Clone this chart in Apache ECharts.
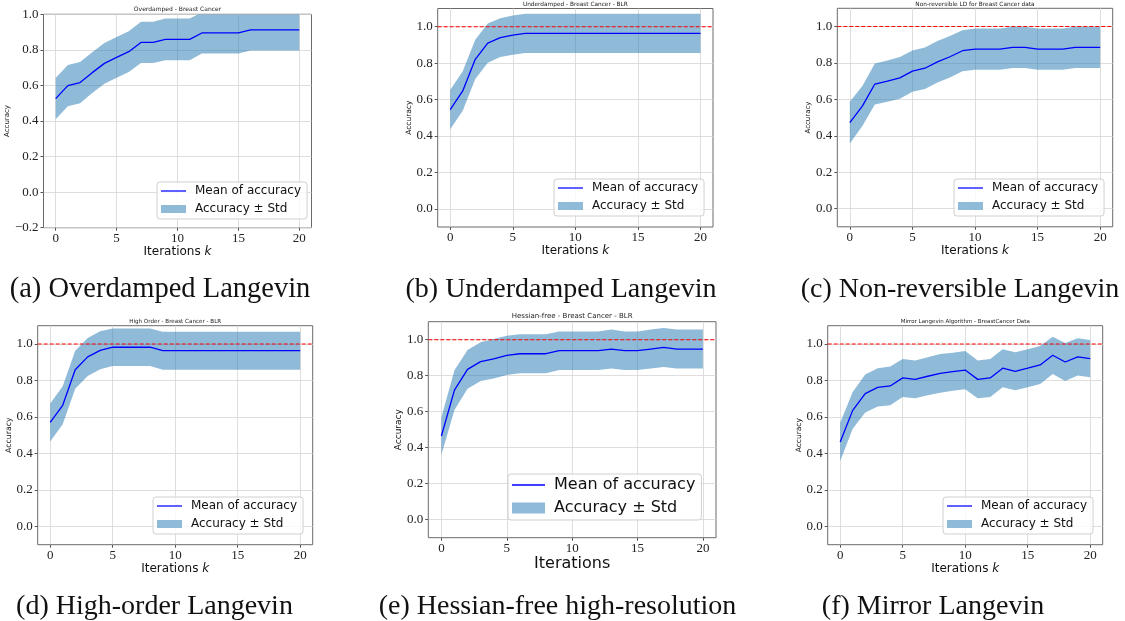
<!DOCTYPE html>
<html><head><meta charset="utf-8">
<script src="https://cdn.jsdelivr.net/npm/echarts@6/dist/echarts.min.js"></script>
<style>html,body{margin:0;padding:0;background:#fff}#c{width:1125px;height:621px}</style>
</head><body><div id="c"></div>
<script>
// ---------- data ----------
const ITER = [0,1,2,3,4,5,6,7,8,9,10,11,12,13,14,15,16,17,18,19,20];
const X_TICKS = [0,5,10,15,20];
const X_LIMITS = [-1, 21];
const Y_TICKS_A = [-0.2,0.0,0.2,0.4,0.6,0.8,1.0];
const Y_TICKS = [0.0,0.2,0.4,0.6,0.8,1.0];
const REF_LEVEL = 1.0;

const A_MEAN = [0.526,0.599,0.616,0.672,0.724,0.758,0.790,0.842,0.842,0.859,0.859,0.859,0.895,0.895,0.895,0.895,0.912,0.912,0.912,0.912,0.912];
const A_STD  = [0.116,0.116,0.116,0.114,0.114,0.115,0.115,0.116,0.116,0.117,0.117,0.117,0.116,0.116,0.116,0.116,0.116,0.116,0.116,0.116,0.116];

const B_MEAN = [0.545,0.647,0.821,0.910,0.940,0.954,0.963,0.963,0.963,0.963,0.963,0.963,0.963,0.963,0.963,0.963,0.963,0.963,0.963,0.963,0.963];
const B_STD  = [0.108,0.108,0.108,0.108,0.107,0.108,0.108,0.108,0.108,0.108,0.108,0.108,0.108,0.108,0.108,0.108,0.108,0.108,0.108,0.108,0.108];

const C_MEAN = [0.472,0.563,0.684,0.700,0.718,0.755,0.771,0.806,0.834,0.867,0.876,0.876,0.876,0.885,0.885,0.876,0.876,0.876,0.885,0.885,0.885];
const C_STD  = [0.115,0.110,0.113,0.113,0.115,0.113,0.114,0.114,0.114,0.113,0.113,0.113,0.113,0.113,0.113,0.113,0.113,0.113,0.113,0.113,0.113];

const D_MEAN = [0.570,0.664,0.859,0.929,0.965,0.982,0.982,0.982,0.982,0.963,0.963,0.963,0.963,0.963,0.963,0.963,0.963,0.963,0.963,0.963,0.963];
const D_STD  = [0.104,0.104,0.104,0.104,0.104,0.103,0.103,0.103,0.103,0.104,0.104,0.104,0.104,0.104,0.104,0.104,0.104,0.104,0.104,0.104,0.104];

const E_MEAN = [0.465,0.720,0.835,0.878,0.894,0.913,0.922,0.922,0.922,0.939,0.939,0.939,0.939,0.948,0.939,0.939,0.948,0.957,0.948,0.948,0.948];
const E_STD  = [0.104,0.110,0.108,0.108,0.110,0.109,0.108,0.108,0.108,0.107,0.107,0.107,0.107,0.108,0.107,0.107,0.108,0.108,0.108,0.108,0.108];

const F_MEAN = [0.463,0.636,0.728,0.762,0.770,0.814,0.806,0.823,0.839,0.848,0.857,0.806,0.814,0.867,0.850,0.867,0.885,0.938,0.901,0.929,0.920];
const F_STD  = [0.105,0.101,0.104,0.105,0.106,0.104,0.103,0.104,0.106,0.104,0.105,0.103,0.104,0.104,0.104,0.104,0.104,0.102,0.104,0.102,0.102];

const TITLES = ['Overdamped - Breast Cancer','Underdamped - Breast Cancer - BLR','Non-reversible LD for Breast Cancer data',
                'High Order - Breast Cancer - BLR','Hessian-free - Breast Cancer - BLR','Mirror Langevin Algorithm - BreastCancer Data'];
const CAPTIONS = ['(a) Overdamped Langevin','(b) Underdamped Langevin','(c) Non-reversible Langevin',
                  '(d) High-order Langevin','(e) Hessian-free high-resolution','(f) Mirror Langevin'];
const LEG_MEAN = 'Mean of accuracy';
const LEG_BAND = 'Accuracy \u00b1 Std';
const Y_NAME = 'Accuracy';

// ---------- layout ----------
const PANELS = [
 {mean:A_MEAN, std:A_STD, ymin:-0.2, ymax:1.0, yticks:Y_TICKS_A, ref:false,
  grid:{left:43.5, top:14.3, width:268, height:213.4}, tY:9.7, tS:6,
  yn:{size:7, gap:22}, xn:{k:true, size:12, gap:13}, lg:{left:157, top:182, fs:12, iw:25, ih:8, gap:6}, cap:{x:160, y:290, fs:28.5}},
 {mean:B_MEAN, std:B_STD, ymin:-0.1, ymax:1.1, yticks:Y_TICKS, ref:true,
  grid:{left:437.7, top:8.5, width:275.3, height:218.5}, tY:4.5, tS:5.8,
  yn:{size:7.5, gap:17}, xn:{k:true, size:12, gap:14}, lg:{left:554, top:179, fs:12, iw:25, ih:8, gap:6}, cap:{x:561, y:290, fs:28}},
 {mean:C_MEAN, std:C_STD, ymin:-0.1, ymax:1.1, yticks:Y_TICKS, ref:true,
  grid:{left:837.3, top:8.3, width:275.4, height:218.5}, tY:4.5, tS:5.8,
  yn:{size:7, gap:18}, xn:{k:true, size:12, gap:14}, lg:{left:954, top:179, fs:12, iw:25, ih:8, gap:6}, cap:{x:960, y:290, fs:28}},
 {mean:D_MEAN, std:D_STD, ymin:-0.1, ymax:1.1, yticks:Y_TICKS, ref:true,
  grid:{left:37.7, top:325.7, width:275, height:219}, tY:322, tS:5.6,
  yn:{size:7.8, gap:18}, xn:{k:true, size:12, gap:14}, lg:{left:153, top:497, fs:12, iw:25, ih:8, gap:6}, cap:{x:154.5, y:607, fs:28}},
 {mean:E_MEAN, std:E_STD, ymin:-0.1, ymax:1.1, yticks:Y_TICKS, ref:true,
  grid:{left:428.3, top:321.7, width:287.7, height:216}, tY:315.8, tS:7,
  yn:{size:9, gap:23}, xn:{k:false, size:16, gap:16}, lg:{left:508, top:474, fs:16, iw:33, ih:11, gap:7}, cap:{x:557.5, y:607, fs:28}},
 {mean:F_MEAN, std:F_STD, ymin:-0.1, ymax:1.1, yticks:Y_TICKS, ref:true,
  grid:{left:827.7, top:325.7, width:275, height:219}, tY:322, tS:5.5,
  yn:{size:7.5, gap:17}, xn:{k:true, size:12, gap:14}, lg:{left:943, top:497, fs:12, iw:25, ih:8, gap:6}, cap:{x:933, y:607, fs:28}}
];

const BAND = 'rgba(31,119,180,0.5)';
const BAND_SOLID = '#8fbbd9';
const fmtY = v => (Math.abs(v) < 1e-9 ? 0 : v).toFixed(1).replace('-', '\u2212');

const grids = [], xAxes = [], yAxes = [], series = [], legends = [], graphics = [];
PANELS.forEach((p, i) => {
  grids.push(Object.assign({show:true, borderColor:'#6a6a6a', borderWidth:1, containLabel:false}, p.grid));
  xAxes.push({
    type:'value', gridIndex:i, min:X_LIMITS[0], max:X_LIMITS[1],
    axisLine:{show:false, onZero:false},
    axisTick:{show:true, customValues:X_TICKS, length:3, lineStyle:{color:'#555'}},
    axisLabel:{customValues:X_TICKS, fontFamily:'Liberation Serif', fontSize:13, color:'#222', margin:4},
    splitLine:{show:true, lineStyle:{color:'#d6d6d6', width:0.8}},
    name: p.xn.k ? '{n|Iterations }{k|k}' : '{n|Iterations}',
    nameLocation:'middle', nameGap:p.xn.gap,
    nameTextStyle:{rich:{
      n:{fontFamily:'DejaVu Sans', fontSize:p.xn.size, color:'#111'},
      k:{fontFamily:'DejaVu Sans', fontStyle:'italic', fontSize:p.xn.size, color:'#111'}}}
  });
  yAxes.push({
    type:'value', gridIndex:i, min:p.ymin, max:p.ymax,
    axisLine:{show:false, onZero:false},
    axisTick:{show:true, customValues:p.yticks, length:3, lineStyle:{color:'#555'}},
    axisLabel:{customValues:p.yticks, formatter:fmtY, fontFamily:'Liberation Serif', fontSize:13, color:'#222', margin:5},
    splitLine:{show:true, lineStyle:{color:'#d6d6d6', width:0.8}},
    name:Y_NAME, nameLocation:'middle', nameGap:p.yn.gap,
    nameTextStyle:{fontFamily:'DejaVu Sans', fontSize:p.yn.size, color:'#111'}
  });
  const lo = ITER.map((x, j) => p.mean[j] - p.std[j]);
  const hi = ITER.map((x, j) => p.mean[j] + p.std[j]);
  series.push({
    type:'custom', name:LEG_BAND, xAxisIndex:i, yAxisIndex:i, silent:true, clip:true, z:2,
    itemStyle:{color:BAND_SOLID},
    data: ITER.map((x, j) => [x, lo[j], hi[j]]),
    encode:{x:0, y:[1,2]},
    renderItem: (params, api) => {
      if (params.dataIndex !== 0) return null;
      const pts = [];
      ITER.forEach((x, j) => pts.push(api.coord([x, hi[j]])));
      for (let j = ITER.length - 1; j >= 0; j--) pts.push(api.coord([ITER[j], lo[j]]));
      const cs = params.coordSys;
      return {type:'polygon', shape:{points:pts}, style:{fill:BAND, stroke:null},
        clipPath:{type:'rect', shape:{x:cs.x, y:cs.y, width:cs.width, height:cs.height}}};
    }
  });
  series.push({
    type:'line', name:LEG_MEAN, xAxisIndex:i, yAxisIndex:i, silent:true,
    data: ITER.map((x, j) => [x, p.mean[j]]),
    symbol:'none', showSymbol:false, itemStyle:{color:'#0000ff'}, lineStyle:{color:'#0000ff', width:1.3}, z:3
  });
  if (p.ref) {
    // horizontal reference line at accuracy = 1.0 across the full x range
    series.push({
      type:'line', name:'_ref' + i, xAxisIndex:i, yAxisIndex:i, silent:true, z:10,
      data: X_LIMITS.map(x => [x, REF_LEVEL]),
      symbol:'none', showSymbol:false, itemStyle:{color:'#ff0000'},
      lineStyle:{color:'#ff0000', type:[4,2], width:1.1, opacity:1}
    });
  }
  legends.push({
    orient:'vertical', left:p.lg.left, top:p.lg.top, itemWidth:p.lg.iw, itemHeight:p.lg.ih, itemGap:p.lg.gap,
    padding:[3,6,4,4], borderColor:'#d0d0d0', borderWidth:1, borderRadius:3, backgroundColor:'rgba(255,255,255,0.8)',
    selectedMode:false,
    textStyle:{fontFamily:'DejaVu Sans', fontSize:p.lg.fs, color:'#111', padding:[0,0,0,4]},
    data:[{name:LEG_MEAN, icon:'path://M0,0H100V5H0Z', itemStyle:{color:'#0000ff', borderWidth:0}},
          {name:LEG_BAND, icon:'rect', itemStyle:{color:BAND_SOLID, borderWidth:0}}]
  });
  const cx = p.grid.left + p.grid.width / 2;
  graphics.push({type:'text', x:cx, y:p.tY, silent:true,
    style:{text:TITLES[i], fontFamily:'DejaVu Sans', fontSize:p.tS, fill:'#222', align:'center', verticalAlign:'middle'}});
  graphics.push({type:'text', x:p.cap.x, y:p.cap.y, silent:true,
    style:{text:CAPTIONS[i], fontFamily:'Liberation Serif', fontSize:p.cap.fs, fill:'#111', align:'center', verticalAlign:'middle'}});
});

const chart = echarts.init(document.getElementById('c'), null, {renderer:'canvas'});
chart.setOption({
  animation:false, backgroundColor:'#ffffff',
  grid:grids, xAxis:xAxes, yAxis:yAxes, series:series, legend:legends, graphic:graphics
});
</script></body></html>
